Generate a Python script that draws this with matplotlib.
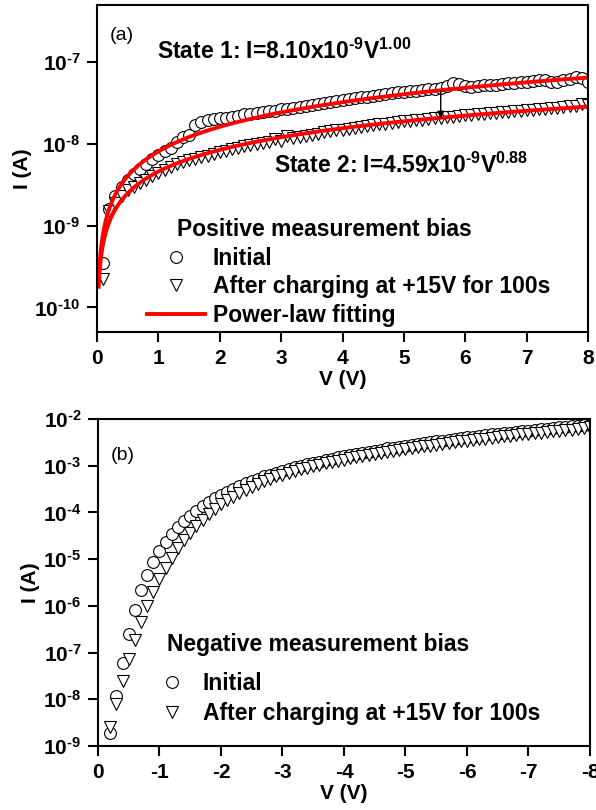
import numpy as np
import matplotlib
matplotlib.use('Agg')
import matplotlib.pyplot as plt
from matplotlib.lines import Line2D
from matplotlib.ticker import FuncFormatter

# Schrift wie im Original (Arial-artig, fett)
plt.rcParams['font.family'] = ['Liberation Sans', 'DejaVu Sans']
plt.rcParams['font.weight'] = 'bold'
plt.rcParams['mathtext.fontset'] = 'custom'
plt.rcParams['mathtext.rm'] = 'Liberation Sans:bold'
plt.rcParams['mathtext.bf'] = 'Liberation Sans:bold'
plt.rcParams['mathtext.it'] = 'Liberation Sans:bold:italic'
plt.rcParams['mathtext.default'] = 'regular'
plt.rcParams['axes.unicode_minus'] = False

# ---- (a) positive measurement bias, currents in nA ----
v_pos = np.round(np.arange(0.1, 8.01, 0.1), 1)
pos_initial_na = [
    0.35, 1.6, 2.3, 3.0, 3.6, 4.3, 5.0, 5.7, 6.5, 7.3,
    8.1, 8.9, 10.5, 12.0, 13.0, 17.0, 18.5, 19.5, 20.0, 20.5,
    21.0, 21.5, 22.0, 23.0, 23.5, 24.0, 24.5, 25.0, 25.5, 26.5,
    27.0, 27.5, 28.5, 29.5, 30.0, 31.0, 32.0, 33.0, 33.5, 34.5,
    35.5, 36.0, 37.0, 38.0, 39.0, 40.0, 41.0, 42.0, 43.0, 43.5,
    44.0, 44.5, 45.5, 46.5, 47.5, 48.5, 51.0, 56.0, 54.0, 50.5,
    50.0, 51.0, 52.0, 52.0, 52.5, 53.5, 55.0, 56.0, 57.0, 58.0,
    58.5, 60.0, 60.5, 56.5, 58.0, 61.0, 63.0, 65.0, 64.0, 58.0,
]
pos_after_na = [
    0.22, 1.5, 1.9, 2.3, 2.7, 3.0, 3.3, 3.6, 4.0, 4.4,
    4.8, 5.2, 5.6, 6.0, 6.3, 6.6, 6.9, 7.2, 7.5, 7.9,
    8.2, 8.6, 8.9, 9.3, 9.6, 9.9, 10.2, 10.5, 11.5, 11.0,
    12.5, 11.8, 12.2, 12.6, 13.0, 13.4, 13.8, 14.2, 14.6, 15.0,
    15.4, 15.8, 16.1, 16.5, 16.9, 17.3, 17.7, 18.0, 18.4, 18.8,
    19.1, 19.5, 19.8, 20.2, 20.5, 20.9, 21.2, 21.6, 21.9, 22.3,
    22.6, 23.0, 23.3, 23.7, 24.0, 24.4, 24.7, 25.1, 25.4, 25.8,
    26.1, 26.5, 26.9, 27.3, 27.8, 28.2, 28.7, 29.2, 30.5, 30.0,
]
# Power-law fit parameters I = a * V^b
fit1_a, fit1_b = 8.10e-9, 1.00
fit2_a, fit2_b = 4.59e-9, 0.88

# ---- (b) negative measurement bias, log10(I / A) ----
v_neg = -np.round(np.arange(0.2, 8.01, 0.1), 1)
neg_initial_log = [
    -8.72, -7.93, -7.23, -6.60, -6.08, -5.66, -5.33, -5.06, -4.83, -4.63,
    -4.46, -4.31, -4.18, -4.07, -3.96, -3.87, -3.78, -3.70, -3.63, -3.56,
    -3.50, -3.44, -3.38, -3.33, -3.28, -3.23, -3.19, -3.15, -3.11, -3.07,
    -3.03, -3.00, -2.97, -2.94, -2.91, -2.88, -2.85, -2.82, -2.80, -2.77,
    -2.75, -2.72, -2.70, -2.68, -2.66, -2.63, -2.61, -2.59, -2.57, -2.55,
    -2.53, -2.51, -2.50, -2.48, -2.46, -2.44, -2.43, -2.41, -2.39, -2.38,
    -2.36, -2.35, -2.33, -2.32, -2.30, -2.29, -2.27, -2.26, -2.25, -2.23,
    -2.22, -2.21, -2.19, -2.18, -2.17, -2.16, -2.15, -2.13, -2.12,
]
neg_after_log = [
    -8.60, -8.10, -7.60, -7.14, -6.73, -6.35, -6.00, -5.70, -5.43, -5.19,
    -4.97, -4.77, -4.59, -4.43, -4.29, -4.16, -4.04, -3.93, -3.83, -3.74,
    -3.66, -3.58, -3.51, -3.45, -3.39, -3.33, -3.28, -3.23, -3.19, -3.15,
    -3.11, -3.07, -3.04, -3.01, -2.98, -2.95, -2.92, -2.89, -2.87, -2.84,
    -2.82, -2.79, -2.77, -2.75, -2.72, -2.70, -2.68, -2.66, -2.64, -2.62,
    -2.60, -2.58, -2.57, -2.55, -2.53, -2.51, -2.50, -2.48, -2.46, -2.45,
    -2.43, -2.42, -2.40, -2.39, -2.37, -2.36, -2.34, -2.33, -2.32, -2.30,
    -2.29, -2.28, -2.26, -2.25, -2.24, -2.23, -2.21, -2.20, -2.18,
]

labels = ['Initial', 'After charging at +15V for 100s']
fs_big = 16.5
fs_tick = 15

marker_kw = dict(ls='none', ms=8.5, mfc='white', mec='black', mew=0.8)

# 10^-n Beschriftung mit kurzem Bindestrich wie im Original
decade_fmt = FuncFormatter(lambda y, pos: '10$^{\\text{%d}}$' % round(np.log10(y)))


def style_axis(ax):
    for sp in ax.spines.values():
        sp.set_linewidth(1.5)
    ax.tick_params(which='major', direction='out', length=7, width=1.5,
                   labelsize=fs_tick, top=False, right=False, pad=5)
    ax.tick_params(which='minor', left=False, bottom=False)
    ax.yaxis.set_major_formatter(decade_fmt)


fig = plt.figure(figsize=(5.96, 8.10), dpi=100)

# ---------------- panel (a) ----------------
ax1 = fig.add_axes([0.1628, 0.5901, 0.8238, 0.4037])
ax1.set_yscale('log')
ax1.plot(v_pos, np.array(pos_initial_na) * 1e-9, marker='o', **marker_kw)
ax1.plot(v_pos, np.array(pos_after_na) * 1e-9, marker='v', **marker_kw)
vf = np.linspace(0.025, 8, 400)
ax1.plot(vf, fit1_a * vf ** fit1_b, color='red', lw=2.8)
ax1.plot(vf, fit2_a * vf ** fit2_b, color='red', lw=2.8)

ax1.annotate('', xy=(5.6, 2.05e-8), xytext=(5.6, 4.5e-8),
             arrowprops=dict(arrowstyle='-|>', color='black', lw=1.0,
                             mutation_scale=10, shrinkA=0, shrinkB=0))

ax1.set_xlim(0, 8)
ax1.set_ylim(5e-11, 5e-7)
ax1.set_xticks(range(0, 9))
ax1.set_yticks([1e-10, 1e-9, 1e-8, 1e-7])
style_axis(ax1)
ax1.set_xlabel('V (V)', fontsize=fs_tick, fontweight='bold', labelpad=2)
ax1.set_ylabel('I (A)', fontsize=fs_tick, fontweight='bold', labelpad=2)

ax1.text(0.026, 0.893, '(a)', transform=ax1.transAxes, fontsize=14,
         fontweight='normal', va='baseline')
ax1.text(0.984, 1.09e-7, 'State 1: I=8.10x10$^{\\text{-9}}$V$^{1.00}$',
         fontsize=fs_big, fontweight='bold', va='baseline')
ax1.text(2.88, 4.43e-9, 'State 2: I=4.59x10$^{\\text{-9}}$V$^{0.88}$',
         fontsize=fs_big, fontweight='bold', va='baseline')

ax1.text(0.162, 0.2936, 'Positive measurement bias', transform=ax1.transAxes,
         fontsize=fs_big, fontweight='bold', va='baseline')
h1 = [Line2D([], [], marker='o', **marker_kw),
      Line2D([], [], marker='v', **marker_kw),
      Line2D([], [], color='red', lw=2.8)]
ax1.legend(h1, labels + ['Power-law fitting'], loc='upper left',
           bbox_to_anchor=(0.102, 0.26), frameon=False, borderpad=0,
           borderaxespad=0, handlelength=2.52, handletextpad=0.35,
           labelspacing=0.23, prop=dict(size=fs_big, weight='bold'))

# ---------------- panel (b) ----------------
ax2 = fig.add_axes([0.1644, 0.0790, 0.8255, 0.4037])
ax2.set_yscale('log')
ax2.plot(v_neg, 10 ** np.array(neg_initial_log), marker='o', **marker_kw)
ax2.plot(v_neg, 10 ** np.array(neg_after_log), marker='v', **marker_kw)

ax2.set_xlim(0, -8)
ax2.set_ylim(1e-9, 1e-2)
ax2.set_xticks(range(0, -9, -1))
ax2.set_yticks([10.0 ** k for k in range(-9, -1)])
style_axis(ax2)
ax2.set_xlabel('V (V)', fontsize=fs_tick, fontweight='bold', labelpad=2)
ax2.set_ylabel('I (A)', fontsize=fs_tick, fontweight='bold', labelpad=2)

ax2.text(0.026, 0.875, '(b)', transform=ax2.transAxes, fontsize=14,
         fontweight='normal', va='baseline')
ax2.text(0.140, 0.292, 'Negative measurement bias', transform=ax2.transAxes,
         fontsize=fs_big, fontweight='bold', va='baseline')
h2 = [Line2D([], [], marker='o', **marker_kw),
      Line2D([], [], marker='v', **marker_kw)]
ax2.legend(h2, labels, loc='upper left', bbox_to_anchor=(0.115, 0.227),
           frameon=False, borderpad=0, borderaxespad=0, handlelength=1.5,
           handletextpad=0.6, labelspacing=0.32,
           prop=dict(size=fs_big, weight='bold'))

fig.savefig('out.png', dpi=100)
